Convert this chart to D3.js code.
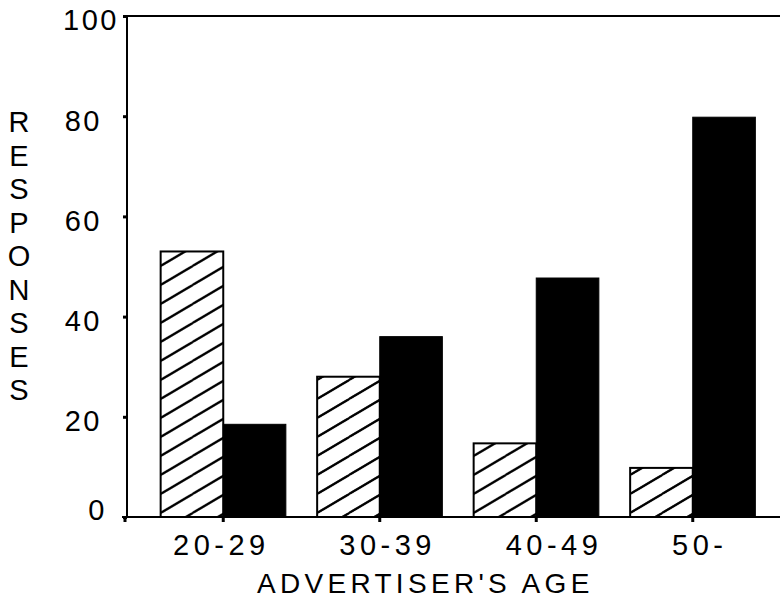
<!DOCTYPE html>
<html>
<head>
<meta charset="utf-8">
<script src="https://cdn.jsdelivr.net/npm/d3@7"></script>
<style>
  html, body { margin: 0; padding: 0; background: #fff; }
  svg { display: block; }
  text { font-family: "Liberation Sans", Arial, Helvetica, sans-serif; fill: #000; }
</style>
</head>
<body>
<svg id="chart" width="780" height="602"></svg>
<script>
// ---- data ----
const ages = ["20-29", "30-39", "40-49", "50-"];
const seriesNames = ["hatched", "solid"];
const hatchedValues = [53, 28, 14.7, 9.8];
const solidValues = [18.5, 36, 47.7, 79.8];
const yTicks = [0, 20, 40, 60, 80, 100];
const yTitle = "RESPONSES";
const xTitle = "ADVERTISER'S AGE";

const rows = ages.map((a, i) => ({ age: a, hatched: hatchedValues[i], solid: solidValues[i] }));

// ---- layout ----
const svg = d3.select("#chart");
const axisX = 127, yTop = 16, yBottom = 517, rightEdge = 780;

const y = d3.scaleLinear().domain([0, 100]).range([yBottom, yTop]);
const x = d3.scaleBand().domain(ages).range([145, 771]).paddingInner(0.2).paddingOuter(0.1);
const xs = d3.scaleBand().domain(seriesNames).range([0, x.bandwidth()]);
const xLabel = d3.scalePoint().domain(ages).range([173, 672]);

// hatch pattern
const defs = svg.append("defs");
const pw = 32, ph = 19;
const pat = defs.append("pattern")
  .attr("id", "hatch")
  .attr("patternUnits", "userSpaceOnUse")
  .attr("width", pw).attr("height", ph);
[[-pw, 2 * ph, 2 * pw, -ph], [-pw, ph, pw, -ph], [0, 2 * ph, 2 * pw, 0], [0, ph, pw, 0]].forEach(s => {
  pat.append("line").attr("x1", s[0]).attr("y1", s[1]).attr("x2", s[2]).attr("y2", s[3])
    .attr("stroke", "#000").attr("stroke-width", 2);
});

// bars
const g = svg.append("g");
const groups = g.selectAll("g.grp").data(rows).join("g")
  .attr("class", "grp")
  .attr("transform", d => `translate(${x(d.age)},0)`);

groups.append("rect")
  .attr("x", xs("hatched"))
  .attr("y", d => y(d.hatched))
  .attr("width", xs.bandwidth())
  .attr("height", d => y(0) - y(d.hatched))
  .attr("fill", "url(#hatch)")
  .attr("stroke", "#000").attr("stroke-width", 2);

groups.append("rect")
  .attr("x", xs("solid"))
  .attr("y", d => y(d.solid))
  .attr("width", xs.bandwidth())
  .attr("height", d => y(0) - y(d.solid))
  .attr("fill", "#000")
  .attr("stroke", "#000").attr("stroke-width", 1);

// frame lines
svg.append("line").attr("x1", axisX - 3).attr("x2", rightEdge).attr("y1", y(100)).attr("y2", y(100))
  .attr("stroke", "#000").attr("stroke-width", 2);
svg.append("line").attr("x1", axisX - 5).attr("x2", rightEdge).attr("y1", y(0)).attr("y2", y(0))
  .attr("stroke", "#000").attr("stroke-width", 2);
svg.append("line").attr("x1", axisX).attr("x2", axisX).attr("y1", y(100)).attr("y2", y(0))
  .attr("stroke", "#000").attr("stroke-width", 2);

// y axis ticks + labels
const yAxis = svg.append("g").attr("transform", `translate(${axisX},0)`)
  .call(d3.axisLeft(y).tickValues(yTicks).tickSize(4).tickPadding(0));
yAxis.select(".domain").remove();
yAxis.selectAll(".tick line").attr("stroke", "#000").attr("stroke-width", 3);
yAxis.selectAll(".tick text")
  .attr("x", d => d >= 100 ? -8 : (d === 0 ? -20 : -25))
  .attr("dy", d => d === 0 ? "0.1em" : "0.48em")
  .style("font-size", "29px")
  .style("letter-spacing", "2.5px")
  .attr("text-anchor", "end");

// x axis ticks at group centres
const xAxisG = svg.append("g").attr("transform", `translate(0,${yBottom})`);
xAxisG.selectAll("line.xt").data([null, ...ages]).join("line")
  .attr("class", "xt")
  .attr("x1", d => d === null ? axisX - 2 : x(d) + x.bandwidth() / 2)
  .attr("x2", d => d === null ? axisX - 2 : x(d) + x.bandwidth() / 2)
  .attr("y1", 0).attr("y2", 5)
  .attr("stroke", "#000").attr("stroke-width", 3);

// x labels
svg.selectAll("text.xl").data(ages).join("text")
  .attr("class", "xl")
  .attr("x", d => xLabel(d))
  .attr("y", 555)
  .attr("text-anchor", "start")
  .style("font-size", "29px")
  .style("letter-spacing", "4.5px")
  .text(d => d);

// x title
svg.append("text")
  .attr("x", 257).attr("y", 593)
  .attr("text-anchor", "start")
  .style("font-size", "28px")
  .style("letter-spacing", "4.3px")
  .text(xTitle);

// y title: stacked letters
const yt = svg.append("text")
  .attr("text-anchor", "middle")
  .style("font-size", "29px");
yt.selectAll("tspan").data(yTitle.split("")).join("tspan")
  .attr("x", 19)
  .attr("y", (d, i) => 132 + i * 33.5)
  .text(d => d);
</script>
</body>
</html>
